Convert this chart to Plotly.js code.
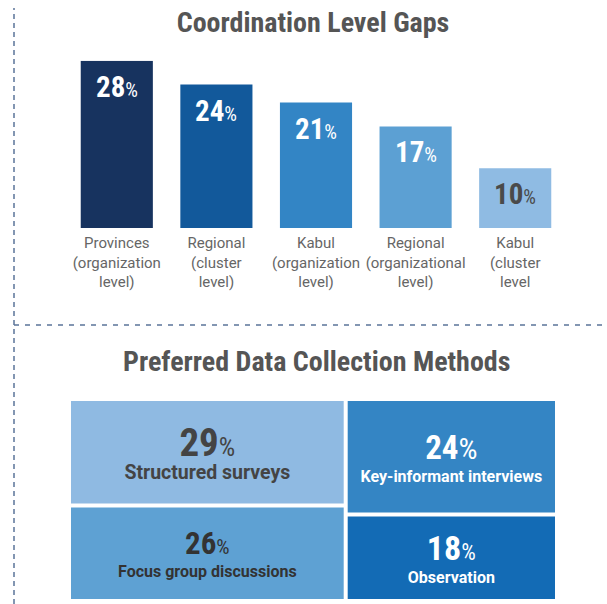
<!DOCTYPE html>
<html>
<head>
<meta charset="utf-8">
<script src="https://cdn.plot.ly/plotly-3.0.1.min.js"></script>
<style>
html,body{margin:0;padding:0;background:#fff;}
#chart{width:607px;height:604px;}
</style>
</head>
<body>
<div id="chart"></div>
<script>
// ---- Data: Coordination Level Gaps ----
const gapCategories = [
  "Provinces<br>(organization<br>level)",
  "Regional<br>(cluster<br>level)",
  "Kabul<br>(organization<br>level)",
  "Regional<br>(organizational<br>level)",
  "Kabul<br>(cluster<br>level"
];
const gapValues = [28, 24, 21, 17, 10];
const gapColors = ["#17335f", "#12599b", "#3385c5", "#5ca0d3", "#8fbbe3"];
const gapTextColors = ["#ffffff", "#ffffff", "#ffffff", "#ffffff", "#4a4a4a"];

// ---- Data: Preferred Data Collection Methods ----
const methodLabels = ["Structured surveys", "Focus group discussions", "Key-informant interviews", "Observation"];
const methodValues = [29, 26, 24, 18];
const methodGroups = ["left", "left", "right", "right"];
const methodColors = ["#8fbae2", "#5ea1d3", "#3485c4", "#136bb5"];
const methodTextColors = ["#444444", "#333333", "#ffffff", "#ffffff"];
const methodNumSizes = [39, 31, 33, 34];
const methodPctSizes = [26, 21, 30, 23];
const methodLabelSizes = [19.5, 16, 16, 16];

const W = 607, H = 604;
const COND = "Roboto Condensed, Open Sans Condensed, DejaVu Sans Condensed, sans-serif";
const SANS = "Roboto, Liberation Sans, sans-serif";

const barTrace = {
  type: "bar",
  x: gapCategories,
  y: gapValues,
  marker: {color: gapColors, line: {width: 0}},
  hoverinfo: "skip",
  xaxis: "x", yaxis: "y"
};

// treemap hierarchy built from the arrays
const tmIds = ["root", "left", "right"].concat(methodLabels);
const tmParents = ["", "root", "root"].concat(methodGroups);
const tmValues = [0, 0, 0].concat(methodValues);
const tmColors = ["#ffffff", "#ffffff", "#ffffff"].concat(methodColors);
const tmText = ["", "", ""].concat(methodLabels.map((l, i) =>
  "<span style='font-family:Roboto Condensed, sans-serif;font-size:" + methodNumSizes[i] + "px'><b>" + methodValues[i] +
  "</b></span><span style='font-family:Roboto Condensed, sans-serif;font-size:" + methodPctSizes[i] + "px'>%</span><br>" +
  "<span style='font-size:" + methodLabelSizes[i] + "px'><b>" + l + "</b></span>"
));
const tmTextColors = ["#fff", "#fff", "#fff"].concat(methodTextColors);

const treeTrace = {
  type: "treemap",
  ids: tmIds,
  labels: tmIds,
  parents: tmParents,
  values: tmValues,
  branchvalues: "remainder",
  text: tmText,
  textinfo: "text",
  textposition: "middle center",
  textfont: {family: SANS, size: 18, color: tmTextColors},
  marker: {colors: tmColors, line: {width: 0}, pad: {t: 0, l: 0, r: 0, b: 0}, depthfade: false},
  tiling: {packing: "slice-dice", pad: 4},
  pathbar: {visible: false},
  hoverinfo: "skip",
  sort: false,
  domain: {x: [71 / W, 555 / W], y: [1 - 599 / H, 1 - 401 / H]}
};

const annotations = gapCategories.map((c, i) => ({
  x: c, y: gapValues[i], xref: "x", yref: "y",
  yshift: -26,
  showarrow: false,
  text: "<b>" + gapValues[i] + "</b><span style='font-size:20px'>%</span>",
  font: {family: COND, size: 29, color: gapTextColors[i]}
}));
annotations.push({
  xref: "paper", yref: "paper", x: 316 / W, y: 1 - 361 / H,
  xanchor: "center", yanchor: "middle", showarrow: false,
  text: "<b>Preferred Data Collection Methods</b>",
  font: {family: COND, size: 28, color: "#555555"}
});

const layout = {
  width: W, height: H,
  margin: {l: 0, r: 0, t: 0, b: 0},
  paper_bgcolor: "#ffffff",
  plot_bgcolor: "#ffffff",
  showlegend: false,
  title: {
    text: "<b>Coordination Level Gaps</b>",
    x: 313 / W, xanchor: "center", xref: "paper",
    y: 1 - 22 / H, yanchor: "middle", yref: "container",
    font: {family: COND, size: 28, color: "#555555"}
  },
  bargap: 0.276,
  xaxis: {
    domain: [67 / W, 565 / W],
    showgrid: false, zeroline: false, showline: false, ticks: "",
    ticklabelstandoff: 4,
    tickfont: {family: SANS, size: 15, color: "#666666"},
    fixedrange: true
  },
  yaxis: {
    domain: [1 - 228 / H, 1 - 60.7 / H],
    range: [0, 28],
    visible: false, showgrid: false, zeroline: false, fixedrange: true
  },
  annotations: annotations,
  shapes: [
    {type: "line", xref: "paper", yref: "paper", x0: 14 / W, x1: 14 / W, y0: 0, y1: 1 - 8 / H,
     line: {color: "#5b7499", width: 1.5, dash: "5px,4px"}},
    {type: "line", xref: "paper", yref: "paper", x0: 14 / W, x1: 1, y0: 1 - 325 / H, y1: 1 - 325 / H,
     line: {color: "#5b7499", width: 1.5, dash: "5px,6px"}}
  ]
};

Plotly.newPlot("chart", [barTrace, treeTrace], layout, {displayModeBar: false, staticPlot: true});
</script>
</body>
</html>
